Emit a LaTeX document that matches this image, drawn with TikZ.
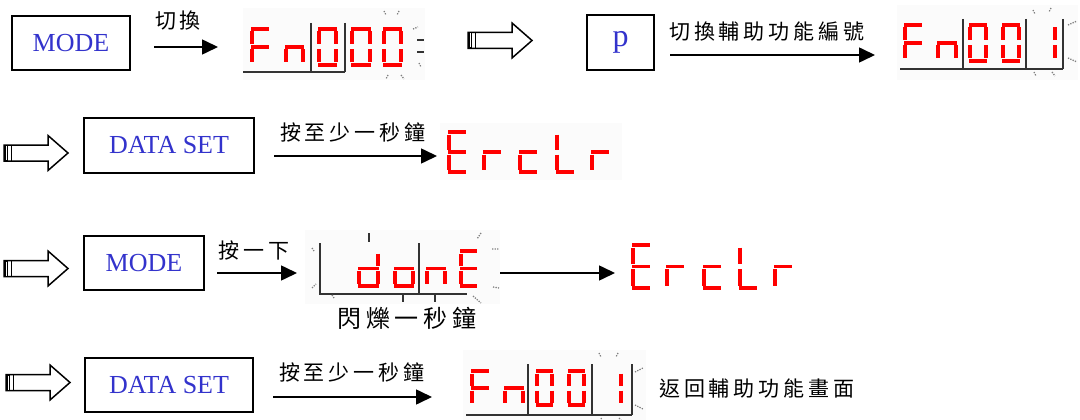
\documentclass[tikz,border=0pt]{standalone}
\usepackage{fontspec}
\usetikzlibrary{arrows.meta, positioning}
\newfontfamily\keyfont{Liberation Serif}
\newfontfamily\cjk[LetterSpace=19]{Noto Sans CJK TC}
\definecolor{keyblue}{HTML}{3333CC}
\definecolor{ledred}{HTML}{FF0000}
\definecolor{ledframe}{HTML}{333333}
\definecolor{blinkgray}{HTML}{808080}

% one 7-segment character: x, y (top left), width, height, segments
\newcommand{\ledchar}[5]{%
  \pgfmathsetmacro{\segw}{#3-4}\pgfmathsetmacro{\segh}{#4-4}\pgfmathsetmacro{\segm}{\segh/2}
  \begin{scope}[shift={(#1+2,#2+2)}]
    \foreach \s in {#5}{%
      \if\s a\draw[seg] (-1,0) -- (\segw+1,0);\fi
      \if\s b\draw[seg] (\segw,2.5) -- (\segw,\segm-2.5);\fi
      \if\s c\draw[seg] (\segw,\segm+2.5) -- (\segw,\segh-2.5);\fi
      \if\s d\draw[seg] (-1,\segh) -- (\segw+1,\segh);\fi
      \if\s e\draw[seg] (0,\segm+2.5) -- (0,\segh-2.5);\fi
      \if\s f\draw[seg] (0,2.5) -- (0,\segm-2.5);\fi
      \if\s g\draw[seg] (-1,\segm) -- (\segw+1,\segm);\fi
    }
  \end{scope}}

% hollow block arrow: left x, centre y
\newcommand{\hollowarrow}[2]{%
  \draw[line width=1.5pt] (#1,#2-8) -- (#1+44,#2-8) -- (#1+44,#2-17.5) -- (#1+64,#2)
    -- (#1+44,#2+17.5) -- (#1+44,#2+8) -- (#1,#2+8) -- cycle;
  \fill (#1,#2-8) rectangle (#1+4,#2+8);
  \draw[white, line width=0.6pt] (#1+2,#2-7) -- (#1+2,#2+7);
  \draw[line width=1pt] (#1+7,#2-8) -- (#1+7,#2+8);}

\begin{document}
\begin{tikzpicture}[x=1pt, y=-1pt,
  keybox/.style={draw, line width=1.6pt, text=keyblue, inner sep=0pt,
    font=\keyfont\fontsize{26}{30}\selectfont},
  lbl/.style={font=\cjk\fontsize{21}{24}\selectfont, inner sep=0pt},
  flow/.style={line width=1.6pt, -{Triangle[length=16pt, width=15pt]}},
  seg/.style={ledred, line width=3.4pt},
  ledline/.style={ledframe, line width=1.8pt},
  blink/.style={blinkgray, line width=1.3pt, dash pattern=on 1.3pt off 1.2pt},
  ledbg/.style={fill=black!1.5}]

  \useasboundingbox (0,0) rectangle (1080,420);

  % Row 1: MODE
  \node[keybox, minimum width=118pt, minimum height=54pt] (mode1) at (71,43) {MODE};
  \node[lbl] (lab1) at (178,21) {切換};
  \coordinate (s1) at (154,47);
  \coordinate (t1) at (218,47);
  \draw[flow] (s1) -- (t1);

  % Fn000
  \fill[ledbg] (243,8) rectangle (425,80);
  \draw[ledline] (243,72) -- (345,72);
  \draw[ledline] (311,23) -- (311,72) (345,23) -- (345,72);
  \ledchar{250}{27}{20}{40}{a,e,f,g}
  \ledchar{284}{27}{21}{40}{c,e,g}
  \ledchar{317}{27}{21}{40}{a,b,c,d,e,f}
  \ledchar{350}{27}{22}{40}{a,b,c,d,e,f}
  \ledchar{382}{27}{21}{40}{a,b,c,d,e,f}
  \draw[blink] (384,11) -- (386,15) (399,11) -- (397,15) (413,29) -- (418,27)
    (419,63) -- (421,67) (388,75) -- (386,79) (401,75) -- (404,79);
  \draw[ledline] (417,40) -- (424,40) (417,52) -- (424,52);

  % Row 1: p
  \hollowarrow{468}{40.5}
  \node[keybox, minimum width=67pt, minimum height=55pt,
    font=\keyfont\fontsize{32}{34}\selectfont] (pkey) at (620.5,42.5) {p};
  \node[lbl] (lab2) at (767,32) {切換輔助功能編號};
  \coordinate (s2) at (670,55);
  \coordinate (t2) at (875,55);
  \draw[flow] (s2) -- (t2);

  % Fn001
  \fill[ledbg] (897,5) rectangle (1078,80);
  \draw[ledline] (900,69) -- (1063,69);
  \draw[ledline] (963,19) -- (963,69) (1026,19) -- (1026,69) (1063,19) -- (1063,69);
  \ledchar{903}{23}{20}{40}{a,e,f,g}
  \ledchar{936}{23}{22}{40}{c,e,g}
  \ledchar{968}{23}{20}{40}{a,b,c,d,e,f}
  \ledchar{1001}{23}{20}{40}{a,b,c,d,e,f}
  \ledchar{1037}{23}{20}{40}{b,c}
  \draw[blink] (1033,10) -- (1035,14) (1051,8) -- (1049,12) (1068,25) -- (1077,21)
    (1068,58) -- (1077,62) (1034,72) -- (1036,76) (1052,72) -- (1055,76);

  % Row 2: DATA SET
  \hollowarrow{4}{153}
  \node[keybox, minimum width=170pt, minimum height=55pt] (set1) at (169,145.5) {DATA SET};
  \node[lbl] (lab3) at (353,132) {按至少一秒鐘};
  \coordinate (s3) at (274,156);
  \coordinate (t3) at (437,156);
  \draw[flow] (s3) -- (t3);

  % ErcLr
  \fill[ledbg] (440,123) rectangle (622,180);
  \ledchar{447}{130}{20}{44}{a,d,e,f,g}
  \ledchar{482}{130}{20}{44}{e,g}
  \ledchar{518}{130}{20}{44}{d,e,g}
  \ledchar{555}{130}{20}{44}{d,e,f}
  \ledchar{590}{130}{20}{44}{e,g}

  % Row 3: MODE
  \hollowarrow{4}{268.5}
  \node[keybox, minimum width=120pt, minimum height=54pt] (mode2) at (144,263) {MODE};
  \node[lbl] (lab4) at (254,250) {按一下};
  \coordinate (s4) at (217,273);
  \coordinate (t4) at (297,273);
  \draw[flow] (s4) -- (t4);

  % donE
  \fill[ledbg] (305,230) rectangle (500,304);
  \draw[ledline] (320,243) -- (320,294) -- (467,294);
  \draw[ledline] (419,243) -- (419,294);
  \draw[ledline, line width=1.4pt] (369,233) -- (369,242) (403,294) -- (403,302)
    (435,294) -- (435,302);
  \ledchar{357}{249}{23}{39}{b,c,d,e,g}
  \ledchar{393}{249}{22}{39}{c,d,e,g}
  \ledchar{425}{249}{22}{39}{c,e,g}
  \ledchar{459}{249}{19}{39}{a,d,e,f,g}
  \draw[blink] (312,248) -- (314,251) (312,288) -- (316,284) (332,295) -- (334,298)
    (481,233) -- (477,239) (492,249) -- (499,249) (493,287) -- (499,288)
    (473,296) -- (481,303);
  \node[lbl, font=\cjk\fontsize{24}{26}\selectfont] (lab5) at (407,318) {閃爍一秒鐘};
  \coordinate (s5) at (500,273);
  \coordinate (t5) at (615,273);
  \draw[flow] (s5) -- (t5);

  % ErcLr
  \ledchar{631}{243}{20}{47}{a,d,e,f,g}
  \ledchar{665}{243}{20}{47}{e,g}
  \ledchar{702}{243}{20}{47}{d,e,g}
  \ledchar{738}{243}{20}{47}{d,e,f}
  \ledchar{773}{243}{20}{47}{e,g}

  % Row 4: DATA SET
  \hollowarrow{6}{382.5}
  \node[keybox, minimum width=168pt, minimum height=54pt] (set2) at (169,385) {DATA SET};
  \node[lbl] (lab6) at (352,372) {按至少一秒鐘};
  \coordinate (s6) at (273,397);
  \coordinate (t6) at (432,397);
  \draw[flow] (s6) -- (t6);

  % Fn001
  \fill[ledbg] (463,350) rectangle (646,420);
  \draw[ledline] (466,415) -- (632,415);
  \draw[ledline] (528,364) -- (528,415) (592,364) -- (592,415) (632,364) -- (632,415);
  \ledchar{470}{369}{20}{38}{a,e,f,g}
  \ledchar{503}{369}{22}{38}{c,e,g}
  \ledchar{535}{369}{19}{38}{a,b,c,d,e,f}
  \ledchar{567}{369}{19}{38}{a,b,c,d,e,f}
  \ledchar{603}{369}{20}{38}{b,c}
  \draw[blink] (599,353) -- (601,357) (618,353) -- (616,357) (635,372) -- (643,368)
    (635,405) -- (643,409) (601,418) -- (602,420) (619,418) -- (621,420);
  \node[lbl] (lab7) at (757,389) {返回輔助功能畫面};
\end{tikzpicture}
\end{document}
